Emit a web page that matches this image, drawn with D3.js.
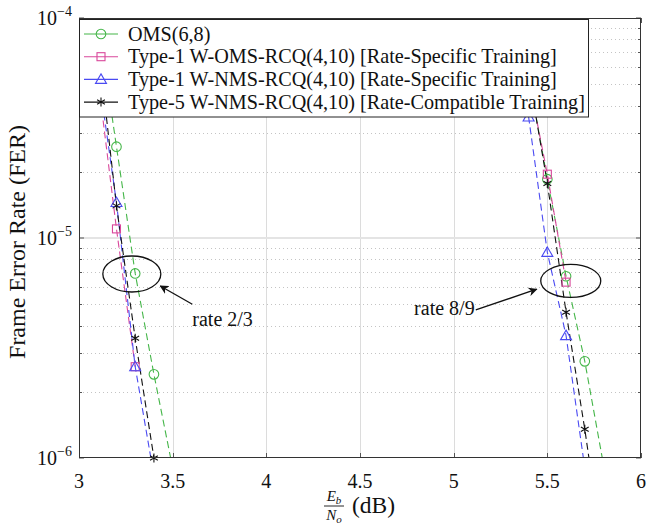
<!DOCTYPE html>
<html lang="en">
<head>
  <meta charset="UTF-8" />
  <title>FER vs Eb/No</title>
  <style>
    body { margin: 0; background: #fff; }
    text { font-family: "Liberation Serif", "Times New Roman", serif; fill: #111; }
    .grid-major { stroke: #dcdcdc; stroke-width: 1px; }
    .grid-major-y { stroke: #e4e4e4; stroke-width: 2px; }
    .grid-minor { stroke: #c4c4c4; stroke-width: 1px; stroke-dasharray: 1,3; }
    .tick { stroke: #555; stroke-width: 1px; }
    .frame { fill: none; stroke: #333; stroke-width: 1px; }
    .curve { fill: none; stroke-width: 1.1px; stroke-dasharray: 7,4; }
    .mark { fill: none; stroke-width: 1.1px; }
    .note { fill: none; stroke: #111; stroke-width: 1.3px; }
    .legend-box { fill: #fff; stroke: #222; stroke-width: 1px; }
  </style>
</head>
<body>
<script src="https://cdn.jsdelivr.net/npm/d3@7/dist/d3.min.js"></script>
<script>

// Data (Eb/No in dB, FER)

var names = [
  "OMS(6,8)",
  "Type-1 W-OMS-RCQ(4,10) [Rate-Specific Training]",
  "Type-1 W-NMS-RCQ(4,10) [Rate-Specific Training]",
  "Type-5 W-NMS-RCQ(4,10) [Rate-Compatible Training]"
];

// rate 2/3 group
var omsX23  = [3.1, 3.2, 3.3, 3.4, 3.5];
var omsY23  = [1.0e-4, 2.6e-5, 6.9e-6, 2.4e-6, 9.0e-7];
var womsX23 = [3.1, 3.2, 3.3];
var womsY23 = [5.4e-5, 1.1e-5, 2.6e-6];
var wnmsX23 = [3.1, 3.2, 3.3, 3.4];
var wnmsY23 = [5.8e-5, 1.45e-5, 2.6e-6, 8.3e-7];
var t5X23   = [3.1, 3.2, 3.3, 3.4, 3.5];
var t5Y23   = [7.9e-5, 1.4e-5, 3.5e-6, 1.0e-6, 2.5e-7];

// rate 8/9 group
var omsX89  = [5.4, 5.5, 5.6, 5.7, 5.8];
var omsY89  = [5.5e-5, 1.85e-5, 6.7e-6, 2.75e-6, 9.3e-7];
var womsX89 = [5.4, 5.5, 5.6];
var womsY89 = [5.3e-5, 1.95e-5, 6.3e-6];
var wnmsX89 = [5.3, 5.4, 5.5, 5.6, 5.7];
var wnmsY89 = [1.4e-4, 3.55e-5, 8.6e-6, 3.6e-6, 9.0e-7];
var t5X89   = [5.4, 5.5, 5.6, 5.7, 5.8];
var t5Y89   = [5.6e-5, 1.77e-5, 4.6e-6, 1.35e-6, 3.5e-7];

// Axis ticks
var xTicks = [3, 3.5, 4, 4.5, 5, 5.5, 6];
var xTickLabels = ["3", "3.5", "4", "4.5", "5", "5.5", "6"];
var yTicks = [1e-6, 1e-5, 1e-4];
var yTickExp = ["\u22126", "\u22125", "\u22124"];

// Annotations (data coordinates)
var noteLabels = ["rate 2/3", "rate 8/9"];
var ellipseX = [3.282, 5.625];
var ellipseY = [6.86e-6, 6.38e-6];
var arrowFromX = [3.605, 5.118];
var arrowFromY = [5.0e-6, 4.71e-6];
var arrowToX = [3.434, 5.443];
var arrowToY = [6.05e-6, 5.85e-6];
var noteX = [3.605, 5.112];
var noteY = [3.98e-6, 4.45e-6];


// Styles per series
var colors = ["#45b649", "#d9479b", "#4a4af2", "#111111"];
var shapes = ["circle", "square", "triangle", "asterisk"];


// SVG set up

var w = 665, h = 532;
var plot = { left: 79, right: 641, top: 18, bottom: 458 };

var svg = d3.select("body").append("svg")
  .attr("width", w)
  .attr("height", h);

var xScale = d3.scaleLinear()
  .domain([3, 6])
  .range([plot.left, plot.right]);

var yScale = d3.scaleLog()
  .domain([1e-6, 1e-4])
  .range([plot.bottom, plot.top]);


// Grid...

// minor y grid (2..9 x 10^k), dotted
var minorY = [];
[1e-6, 1e-5].forEach(function(d) {
  for (var k = 2; k <= 9; k++) minorY.push(d * k);
});

svg.append("g").selectAll("line")
  .data(minorY)
  .enter().append("line")
  .attr("class", "grid-minor")
  .attr("x1", plot.left).attr("x2", plot.right)
  .attr("y1", function(d) { return Math.round(yScale(d)) + 0.5; })
  .attr("y2", function(d) { return Math.round(yScale(d)) + 0.5; });

// major x grid
svg.append("g").selectAll("line")
  .data(xTicks.slice(1, -1))
  .enter().append("line")
  .attr("class", "grid-major")
  .attr("x1", function(d) { return Math.round(xScale(d)) + 0.5; })
  .attr("x2", function(d) { return Math.round(xScale(d)) + 0.5; })
  .attr("y1", plot.top).attr("y2", plot.bottom);

// major y grid (inner decade only)
svg.append("line")
  .attr("class", "grid-major-y")
  .attr("x1", plot.left).attr("x2", plot.right)
  .attr("y1", yScale(1e-5)).attr("y2", yScale(1e-5));


// Ticks (inside the frame)
var tickG = svg.append("g");

xTicks.forEach(function(d) {
  var x = Math.round(xScale(d)) + 0.5;
  tickG.append("line").attr("class", "tick")
    .attr("x1", x).attr("x2", x).attr("y1", plot.bottom).attr("y2", plot.bottom - 5);
  tickG.append("line").attr("class", "tick")
    .attr("x1", x).attr("x2", x).attr("y1", plot.top).attr("y2", plot.top + 5);
});

minorY.forEach(function(d) {
  var y = Math.round(yScale(d)) + 0.5;
  tickG.append("line").attr("class", "tick")
    .attr("x1", plot.left).attr("x2", plot.left + 3).attr("y1", y).attr("y2", y);
  tickG.append("line").attr("class", "tick")
    .attr("x1", plot.right).attr("x2", plot.right - 3).attr("y1", y).attr("y2", y);
});

yTicks.forEach(function(d) {
  var y = yScale(d);
  tickG.append("line").attr("class", "tick")
    .attr("x1", plot.left).attr("x2", plot.left + 5).attr("y1", y).attr("y2", y);
  tickG.append("line").attr("class", "tick")
    .attr("x1", plot.right).attr("x2", plot.right - 5).attr("y1", y).attr("y2", y);
});


// Curves...

svg.append("clipPath").attr("id", "plot-clip")
  .append("rect")
  .attr("x", plot.left).attr("y", plot.top)
  .attr("width", plot.right - plot.left)
  .attr("height", plot.bottom - plot.top);

var groups = [
  [omsX23, omsY23, 0], [womsX23, womsY23, 1], [wnmsX23, wnmsY23, 2], [t5X23, t5Y23, 3],
  [omsX89, omsY89, 0], [womsX89, womsY89, 1], [wnmsX89, wnmsY89, 2], [t5X89, t5Y89, 3]
];

var line = d3.line()
  .x(function(d) { return xScale(d[0]); })
  .y(function(d) { return yScale(d[1]); });

var curveG = svg.append("g").attr("clip-path", "url(#plot-clip)");
var markG = svg.append("g");

// draw a marker of a given shape at (x, y)
function drawMark(g, shape, color, x, y) {
  if (shape === "circle") {
    g.append("circle").attr("class", "mark").attr("stroke", color)
      .attr("cx", x).attr("cy", y).attr("r", 4.8);
  } else if (shape === "square") {
    g.append("rect").attr("class", "mark").attr("stroke", color)
      .attr("x", x - 4).attr("y", y - 4).attr("width", 8).attr("height", 8);
  } else if (shape === "triangle") {
    g.append("path").attr("class", "mark").attr("stroke", color)
      .attr("d", "M" + x + "," + (y - 5.5) + "L" + (x + 5.5) + "," + (y + 4) +
                 "L" + (x - 5.5) + "," + (y + 4) + "Z");
  } else {
    var p = "";
    [90, 30, -30].forEach(function(a) {
      var r = 4.5, c = Math.cos(a * Math.PI / 180) * r, s = Math.sin(a * Math.PI / 180) * r;
      p += "M" + (x - c) + "," + (y + s) + "L" + (x + c) + "," + (y - s);
    });
    g.append("path").attr("class", "mark").attr("stroke", color)
      .attr("stroke-width", 1.4).attr("d", p);
  }
}

groups.forEach(function(gr) {
  var pts = gr[0].map(function(x, i) { return [x, gr[1][i]]; });
  var k = gr[2];

  curveG.append("path")
    .datum(pts)
    .attr("class", "curve")
    .attr("stroke", colors[k])
    .attr("d", line);

  // markers only for points inside the y range
  pts.filter(function(d) { return d[1] >= 0.999e-6 && d[1] < 0.99e-4; })
    .forEach(function(d) {
      drawMark(markG, shapes[k], colors[k], xScale(d[0]), yScale(d[1]));
    });
});


// Frame
svg.append("rect")
  .attr("class", "frame")
  .attr("x", plot.left + 0.5).attr("y", plot.top + 0.5)
  .attr("width", plot.right - plot.left - 1)
  .attr("height", plot.bottom - plot.top - 1);


// Tick labels

svg.append("g").selectAll("text")
  .data(xTicks)
  .enter().append("text")
  .attr("x", function(d) { return xScale(d); })
  .attr("y", plot.bottom + 30)
  .attr("text-anchor", "middle")
  .attr("font-size", 20)
  .text(function(d, i) { return xTickLabels[i]; });

yTicks.forEach(function(d, i) {
  var t = svg.append("text")
    .attr("x", plot.left - 7)
    .attr("y", yScale(d) + 7)
    .attr("text-anchor", "end")
    .attr("font-size", 20);
  t.append("tspan").text("10");
  t.append("tspan").attr("font-size", 14).attr("dy", -9).text(yTickExp[i]);
});


// Axis labels

svg.append("text")
  .attr("transform", "translate(25," + ((plot.top + plot.bottom) / 2 + 4) + ") rotate(-90)")
  .attr("text-anchor", "middle")
  .attr("font-size", 24)
  .text("Frame Error Rate (FER)");

var xl = svg.append("g")
  .attr("transform", "translate(" + ((plot.left + plot.right) / 2) + ",0)");

var num = xl.append("text").attr("x", -26).attr("y", 501).attr("text-anchor", "middle")
  .attr("font-size", 15);
num.append("tspan").attr("font-style", "italic").text("E");
num.append("tspan").attr("font-size", 11).attr("dy", 3).attr("font-style", "italic").text("b");

xl.append("line")
  .attr("x1", -36).attr("x2", -16).attr("y1", 506).attr("y2", 506)
  .attr("stroke", "#111").attr("stroke-width", 0.9);

var den = xl.append("text").attr("x", -26).attr("y", 520).attr("text-anchor", "middle")
  .attr("font-size", 15);
den.append("tspan").attr("font-style", "italic").text("N");
den.append("tspan").attr("font-size", 11).attr("dy", 3).attr("font-style", "italic").text("o");

xl.append("text")
  .attr("x", -8).attr("y", 513)
  .attr("font-size", 23.5)
  .text("(dB)");


// Annotations: ellipses, arrows, labels

var defs = svg.append("defs");
defs.append("marker")
  .attr("id", "arrowhead")
  .attr("viewBox", "0 0 10 10")
  .attr("refX", 9).attr("refY", 5)
  .attr("markerWidth", 9).attr("markerHeight", 9)
  .attr("markerUnits", "userSpaceOnUse")
  .attr("orient", "auto")
  .append("path")
  .attr("d", "M0,0 L10,5 L0,10 L3,5 Z")
  .attr("fill", "#111");

var ellipseRx = [29, 30], ellipseRy = [18, 16.5];

noteLabels.forEach(function(lbl, i) {
  svg.append("ellipse")
    .attr("class", "note")
    .attr("cx", xScale(ellipseX[i]))
    .attr("cy", yScale(ellipseY[i]))
    .attr("rx", ellipseRx[i])
    .attr("ry", ellipseRy[i]);

  svg.append("line")
    .attr("class", "note")
    .attr("x1", xScale(arrowFromX[i])).attr("y1", yScale(arrowFromY[i]))
    .attr("x2", xScale(arrowToX[i])).attr("y2", yScale(arrowToY[i]))
    .attr("marker-end", "url(#arrowhead)");

  svg.append("text")
    .attr("x", xScale(noteX[i]))
    .attr("y", yScale(noteY[i]))
    .attr("text-anchor", i === 0 ? "start" : "end")
    .attr("font-size", 20)
    .text(lbl);
});


// Legend

var legend = svg.append("g");

legend.append("rect")
  .attr("class", "legend-box")
  .attr("x", 79.5).attr("y", 19.5)
  .attr("width", 509).attr("height", 97.5);

names.forEach(function(n, i) {
  var y = 34 + i * 22.7;
  legend.append("line")
    .attr("x1", 84).attr("x2", 118).attr("y1", y).attr("y2", y)
    .attr("stroke", colors[i]).attr("stroke-width", 1.1);
  drawMark(legend, shapes[i], colors[i], 101, y);
  legend.append("text")
    .attr("x", 128).attr("y", y + 6.5)
    .attr("font-size", 20.2)
    .text(n);
});

</script>
</body>
</html>
